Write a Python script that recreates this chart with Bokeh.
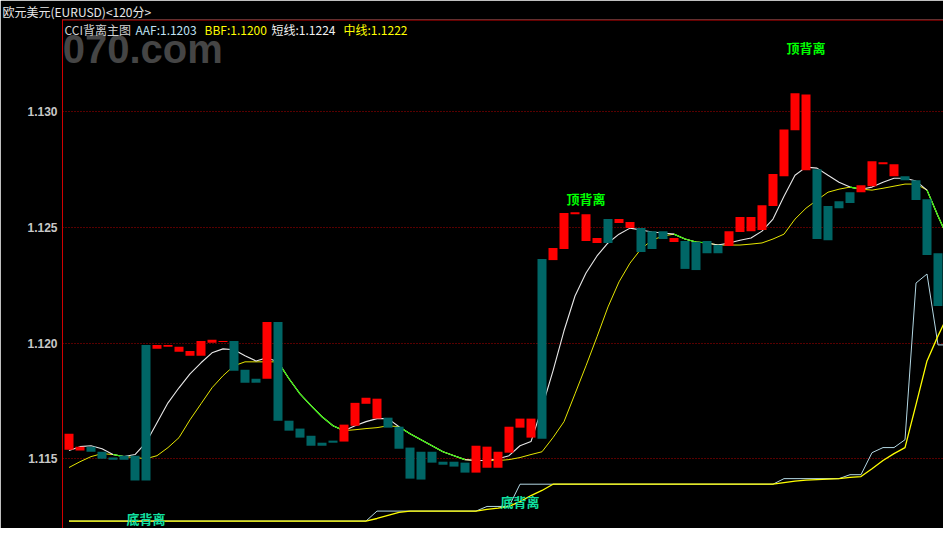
import numpy as np
from bokeh.plotting import figure
from bokeh.models import (Range1d, FixedTicker, NumeralTickFormatter, Label, Span,
                          ColumnDataSource)
from bokeh.core.properties import value
from bokeh.embed import file_html
from bokeh.resources import INLINE

# ---------------- data ----------------
open_ = [1.11540, 1.11536, 1.11553, 1.11531, 1.11506, 1.11514, 1.11514, 1.11992, 1.11975, 1.11984,
         1.11962, 1.11945, 1.11945, 1.12001, 1.12005, 1.12009, 1.11885, 1.11846, 1.11846, 1.12091,
         1.11665, 1.11631, 1.11600, 1.11570, 1.11579, 1.11575, 1.11643, 1.11738, 1.11674, 1.11678,
         1.11639, 1.11549, 1.11531, 1.11531, 1.11488, 1.11488, 1.11484, 1.11441, 1.11462, 1.11462,
         1.11527, 1.11635, 1.11592, 1.12363, 1.12358, 1.12406, 1.12556, 1.12440, 1.12432, 1.12535,
         1.12518, 1.12496, 1.12496, 1.12483, 1.12483, 1.12436, 1.12440, 1.12436, 1.12440, 1.12423,
         1.12419, 1.12479, 1.12483, 1.12488, 1.12591, 1.12720, 1.12918, 1.12746, 1.12750, 1.12591,
         1.12612, 1.12651, 1.12651, 1.12677, 1.12772, 1.12720, 1.12720, 1.12703, 1.12621, 1.12388,
         1.12165]
close = [1.11609, 1.11553, 1.11531, 1.11501, 1.11497, 1.11497, 1.11407, 1.11407, 1.11992, 1.11992,
         1.11984, 1.11966, 1.12009, 1.12014, 1.12009, 1.11880, 1.11829, 1.11829, 1.12091, 1.11665,
         1.11622, 1.11592, 1.11557, 1.11557, 1.11570, 1.11648, 1.11742, 1.11764, 1.11760, 1.11635,
         1.11544, 1.11415, 1.11411, 1.11484, 1.11475, 1.11467, 1.11441, 1.11557, 1.11553, 1.11531,
         1.11639, 1.11674, 1.11674, 1.11587, 1.12410, 1.12561, 1.12565, 1.12556, 1.12453, 1.12432,
         1.12535, 1.12522, 1.12393, 1.12406, 1.12449, 1.12453, 1.12320, 1.12315, 1.12388, 1.12388,
         1.12483, 1.12544, 1.12544, 1.12595, 1.12729, 1.12922, 1.13078, 1.13073, 1.12449, 1.12444,
         1.12582, 1.12604, 1.12681, 1.12785, 1.12780, 1.12772, 1.12703, 1.12617, 1.12380, 1.12160,
         1.12147]
short_line = [1.11536, 1.11553, 1.11557, 1.11544, 1.11519, 1.11510, 1.11519, 1.11570, 1.11656, 1.11742,
              1.11807, 1.11867, 1.11915, 1.11958, 1.11975, 1.11971, 1.11945, 1.11923, 1.11936, 1.11919,
              1.11846, 1.11781, 1.11730, 1.11682, 1.11643, 1.11622, 1.11643, 1.11661, 1.11674, 1.11674,
              1.11639, 1.11609, 1.11583, 1.11557, 1.11531, 1.11514, 1.11497, 1.11493, 1.11493, 1.11501,
              1.11514, 1.11557, 1.11575, 1.11721, 1.11880, 1.12053, 1.12203, 1.12302, 1.12376, 1.12432,
              1.12470, 1.12496, 1.12488, 1.12479, 1.12475, 1.12470, 1.12449, 1.12436, 1.12432, 1.12423,
              1.12432, 1.12444, 1.12453, 1.12483, 1.12535, 1.12634, 1.12724, 1.12759, 1.12755, 1.12724,
              1.12694, 1.12673, 1.12664, 1.12673, 1.12694, 1.12711, 1.12711, 1.12699, 1.12660, 1.12548,
              1.12444]
mid_line = [1.11463, 1.11488, 1.11510, 1.11523, 1.11519, 1.11510, 1.11506, 1.11501, 1.11514, 1.11549,
            1.11592, 1.11669, 1.11738, 1.11807, 1.11859, 1.11902, 1.11919, 1.11919, 1.11919, 1.11919,
            1.11846, 1.11781, 1.11730, 1.11682, 1.11643, 1.11622, 1.11626, 1.11631, 1.11635, 1.11643,
            1.11639, 1.11609, 1.11583, 1.11557, 1.11531, 1.11514, 1.11497, 1.11493, 1.11493, 1.11493,
            1.11497, 1.11506, 1.11519, 1.11531, 1.11592, 1.11661, 1.11781, 1.11902, 1.12027, 1.12156,
            1.12264, 1.12345, 1.12406, 1.12444, 1.12462, 1.12470, 1.12449, 1.12436, 1.12432, 1.12423,
            1.12423, 1.12423, 1.12427, 1.12432, 1.12449, 1.12470, 1.12535, 1.12582, 1.12617, 1.12651,
            1.12664, 1.12673, 1.12664, 1.12660, 1.12668, 1.12677, 1.12686, 1.12686, 1.12660, 1.12548,
            1.12444]
aaf = [1.11232, 1.11232, 1.11232, 1.11232, 1.11232, 1.11232, 1.11232, 1.11232, 1.11232, 1.11232,
       1.11232, 1.11232, 1.11232, 1.11232, 1.11232, 1.11232, 1.11232, 1.11232, 1.11232, 1.11232,
       1.11232, 1.11232, 1.11232, 1.11232, 1.11232, 1.11232, 1.11232, 1.11232, 1.11275, 1.11275,
       1.11275, 1.11275, 1.11275, 1.11275, 1.11275, 1.11275, 1.11275, 1.11275, 1.11295, 1.11295,
       1.11295, 1.11391, 1.11391, 1.11391, 1.11391, 1.11391, 1.11391, 1.11391, 1.11391, 1.11391,
       1.11391, 1.11391, 1.11391, 1.11391, 1.11391, 1.11391, 1.11391, 1.11391, 1.11391, 1.11391,
       1.11391, 1.11391, 1.11391, 1.11391, 1.11391, 1.11415, 1.11415, 1.11415, 1.11415, 1.11415,
       1.11415, 1.11432, 1.11432, 1.11527, 1.11549, 1.11549, 1.11583, 1.12259, 1.12298, 1.11992,
       1.11992]
bbf = [1.11232, 1.11232, 1.11232, 1.11232, 1.11232, 1.11232, 1.11232, 1.11232, 1.11232, 1.11232,
       1.11232, 1.11232, 1.11232, 1.11232, 1.11232, 1.11232, 1.11232, 1.11232, 1.11232, 1.11232,
       1.11232, 1.11232, 1.11232, 1.11232, 1.11232, 1.11232, 1.11232, 1.11232, 1.11243, 1.11256,
       1.11269, 1.11275, 1.11275, 1.11275, 1.11275, 1.11275, 1.11275, 1.11275, 1.11282, 1.11288,
       1.11295, 1.11316, 1.11342, 1.11364, 1.11391, 1.11391, 1.11391, 1.11391, 1.11391, 1.11391,
       1.11391, 1.11391, 1.11391, 1.11391, 1.11391, 1.11391, 1.11391, 1.11391, 1.11391, 1.11391,
       1.11391, 1.11391, 1.11391, 1.11391, 1.11391, 1.11398, 1.11404, 1.11409, 1.11411, 1.11413,
       1.11415, 1.11420, 1.11424, 1.11458, 1.11493, 1.11523, 1.11549, 1.11734, 1.11923, 1.12031,
       1.12130]
# index ranges where the short/mid lines are drawn green (falling, merged)
green_segments = [(4, 5), (19, 25), (30, 36), (55, 58), (71, 72), (78, 80)]

top_div_idx = [47, 67]
top_div_price = [1.12623, 1.13276]
bot_div_idx = [7, 41]
bot_div_price = [1.11241, 1.11318]

y_ticks = [1.115, 1.120, 1.125, 1.130]
title_text = "欧元美元(EURUSD)<120分>"
legend_texts = ["CCI背离主图", "AAF:1.1203", "BBF:1.1200", "短线:1.1224", "中线:1.1222"]
legend_colors = ["#D0D0D0", "#BFE3F5", "#FFFF00", "#F0F0F0", "#FFFF00"]
watermark = "6070.com"

# ---------------- layout helpers (pixels of the picture) ----------------
W, H = 943, 528
BAR_PX = 11.0
FRAME_LEFT = 62
FRAME_TOP = 18
PX_PER_PRICE = 116.1 / 0.005


def px_x(X):
    return -6.5 / BAR_PX + (X - FRAME_LEFT) / BAR_PX


def px_y(Y):
    return 1.130 - (Y - 110) / PX_PER_PRICE


n = len(open_)
idx = np.arange(n)
o = np.array(open_)
c = np.array(close)
up = c >= o
src = ColumnDataSource(dict(
    x=idx, top=np.maximum(o, c), bottom=np.minimum(o, c),
    color=np.where(up, "#FF0000", "#006666")))

green = np.full(n, np.nan)
for a, b in green_segments:
    green[a:b + 1] = np.array(short_line)[a:b + 1]

p = figure(width=W, height=H, output_backend="svg", toolbar_location=None,
           x_range=Range1d(px_x(FRAME_LEFT), px_x(W)),
           y_range=Range1d(px_y(H), px_y(FRAME_TOP)),
           min_border_left=FRAME_LEFT, min_border_top=FRAME_TOP,
           min_border_right=0, min_border_bottom=0)
p.title.text = title_text
p.title.align = "left"
p.title.offset = -60
p.title.standoff = 0
p.title.text_line_height = 1.0
p.title.text_color = "#E8E8E8"
p.title.text_font = "Noto Sans CJK SC"
p.title.text_font_size = "12px"
p.title.text_font_style = "normal"
p.background_fill_color = "black"
p.border_fill_color = "black"
p.outline_line_color = None
p.xaxis.visible = False
p.xgrid.visible = False

p.yaxis.ticker = FixedTicker(ticks=y_ticks)
p.yaxis.formatter = NumeralTickFormatter(format="0.000")
p.yaxis.axis_line_color = "#D00000"
p.yaxis.major_tick_line_color = None
p.yaxis.minor_tick_line_color = None
p.yaxis.major_tick_out = 0
p.yaxis.major_label_standoff = 5
p.yaxis.major_label_text_color = "#C8C8C8"
p.yaxis.major_label_text_font = "Liberation Sans"
p.yaxis.major_label_text_font_style = "bold"
p.yaxis.major_label_text_font_size = "12px"

p.ygrid.ticker = FixedTicker(ticks=y_ticks)
p.ygrid.grid_line_color = "#B00000"
p.ygrid.grid_line_dash = "1 2"
p.ygrid.grid_line_width = 1

# header separator line
p.add_layout(Span(location=px_y(FRAME_TOP + 0.5), dimension="width",
                  line_color="#D00000", line_width=1))

# watermark
p.add_layout(Label(x=px_x(40), y=px_y(48), text=watermark, text_color="#454545",
                   text_font="Liberation Sans", text_font_style="bold",
                   text_font_size="40px", text_baseline="alphabetic"))

# indicator lines
p.line(idx, aaf, line_color="#B4D8E4", line_width=1)
p.line(idx, bbf, line_color="#FFFF00", line_width=1.3)
p.line(idx, mid_line, line_color="#E6E600", line_width=1)
p.line(idx, short_line, line_color="#E8E8E8", line_width=1.1)
p.line(idx, green, line_color="#30F000", line_width=1.2)

# candle bodies
p.vbar(x="x", width=9 / BAR_PX, top="top", bottom="bottom", fill_color="color",
       line_color=None, source=src)

# divergence labels
p.text(top_div_idx, top_div_price, text=["顶背离"] * len(top_div_idx),
       text_color="#00FF00", text_font=value("Noto Sans CJK SC"), text_font_style="bold",
       text_font_size="13px", text_align="center", text_baseline="middle")
p.text(bot_div_idx, bot_div_price, text=["底背离"] * len(bot_div_idx),
       text_color="#10E0A0", text_font=value("Noto Sans CJK SC"), text_font_style="bold",
       text_font_size="13px", text_align="center", text_baseline="middle")

# legend line of the indicator
legend_x = [64, 135, 204, 271, 343]
for X, t, col in zip(legend_x, legend_texts, legend_colors):
    p.add_layout(Label(x=px_x(X), y=px_y(28), text=t, text_color=col,
                       text_font="Noto Sans CJK SC", text_font_size="12px",
                       text_baseline="middle"))

open("out.html", "w").write(file_html(p, INLINE))
